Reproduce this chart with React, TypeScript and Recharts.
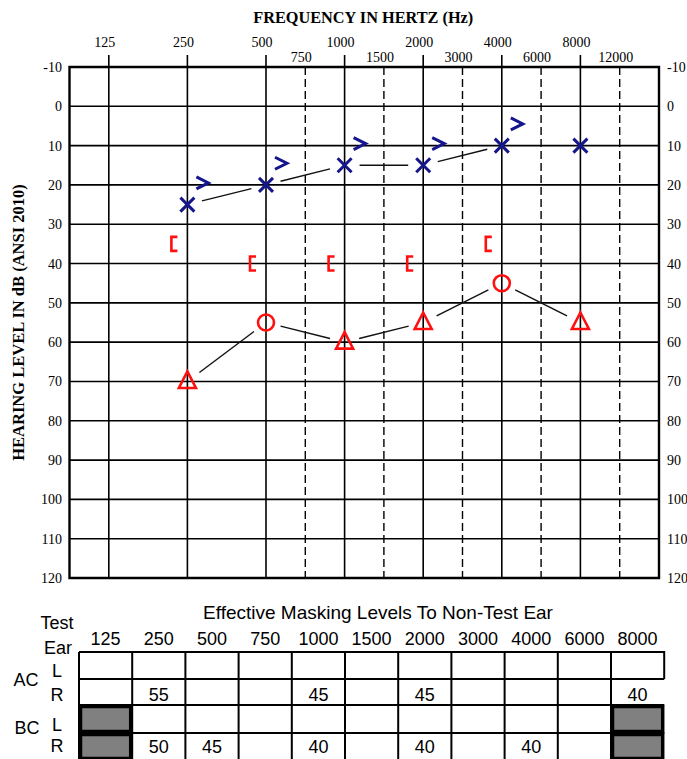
import React from 'react'
import {
  ComposedChart, Line, Scatter, XAxis, YAxis, CartesianGrid,
  ReferenceLine, ReferenceArea,
} from 'recharts'

// audiogram axes: octaves are evenly spaced, inter-octave lines sit half way
const FREQS = [125, 250, 500, 750, 1000, 1500, 2000, 3000, 4000, 6000, 8000, 12000]
const FREQ_POS = [0, 1, 2, 2.5, 3, 3.5, 4, 4.5, 5, 5.5, 6, 6.5]
const OCTAVE_FREQS = [125, 250, 500, 1000, 2000, 4000, 8000]
const MID_FREQS = [750, 1500, 3000, 6000, 12000]
const X_DOMAIN: [number, number] = [-0.5, 7]
const DB_TICKS = [-10, 0, 10, 20, 30, 40, 50, 60, 70, 80, 90, 100, 110, 120]

// left ear, air conduction (X); the 8000 point is not joined
const LEFT_AC_FREQ = [250, 500, 1000, 2000, 4000, 8000]
const LEFT_AC_DB = [25, 20, 15, 15, 10, 10]
const LEFT_AC_JOINED = [true, true, true, true, true, false]

// left ear, bone conduction unmasked (>)
const LEFT_BC_FREQ = [250, 500, 1000, 2000, 4000]
const LEFT_BC_DB = [20, 15, 10, 10, 5]

// right ear, air conduction: circle unmasked, triangle masked
const RIGHT_AC_FREQ = [250, 500, 1000, 2000, 4000, 8000]
const RIGHT_AC_DB = [70, 55, 60, 55, 45, 55]
const RIGHT_AC_MASKED = [true, false, true, true, false, true]

// right ear, bone conduction masked ([)
const RIGHT_BC_FREQ = [250, 500, 1000, 2000, 4000]
const RIGHT_BC_DB = [35, 40, 40, 40, 35]

// effective masking table
const MASK_FREQS = ['125', '250', '500', '750', '1000', '1500', '2000', '3000', '4000', '6000', '8000']
const MASK_AC_L = ['', '', '', '', '', '', '', '', '', '', '']
const MASK_AC_R = ['', '55', '', '', '45', '', '45', '', '', '', '40']
const MASK_BC_L = ['', '', '', '', '', '', '', '', '', '', '']
const MASK_BC_R = ['', '50', '45', '', '40', '', '40', '', '40', '', '']
const MASK_BC_GREY = [0, 10]

const NAVY = '#16168c'
const RED = '#ff1010'
const SERIF = '"Liberation Serif", "Times New Roman", serif'
const SANS = '"Liberation Sans", Arial, Helvetica, sans-serif'

const posOf = (f: number) => FREQ_POS[FREQS.indexOf(f)]
const freqOf = (p: number) => FREQS[FREQ_POS.indexOf(p)]

const leftAc = LEFT_AC_FREQ.map((f, i) => ({ x: posOf(f), v: LEFT_AC_DB[i] }))
const leftAcLine = leftAc.filter((_, i) => LEFT_AC_JOINED[i])
const leftBc = LEFT_BC_FREQ.map((f, i) => ({ x: posOf(f), v: LEFT_BC_DB[i] }))
const rightAc = RIGHT_AC_FREQ.map((f, i) => ({ x: posOf(f), v: RIGHT_AC_DB[i], masked: RIGHT_AC_MASKED[i] }))
const rightBc = RIGHT_BC_FREQ.map((f, i) => ({ x: posOf(f), v: RIGHT_BC_DB[i] }))

// connecting segment to the next point, stopping short of both symbols
function gapSegment(p: any) {
  const { cx, cy, index, points } = p
  const next = points && points[index + 1]
  if (!next || cx == null) return <g key={`s${index}`} />
  const dx = next.x - cx
  const dy = next.y - cy
  const len = Math.hypot(dx, dy)
  const gap = 15
  if (len <= gap * 2) return <g key={`s${index}`} />
  const ux = dx / len
  const uy = dy / len
  return (
    <line key={`s${index}`}
      x1={cx + ux * gap} y1={cy + uy * gap}
      x2={next.x - ux * gap} y2={next.y - uy * gap}
      stroke="#111" strokeWidth={1.4}
    />
  )
}

const XMark = (p: any) => {
  const { cx, cy } = p
  const s = 7
  return (
    <path d={`M${cx - s},${cy - s}L${cx + s},${cy + s}M${cx + s},${cy - s}L${cx - s},${cy + s}`}
      stroke={NAVY} strokeWidth={3} fill="none" />
  )
}

const BcLeftMark = (p: any) => {
  const x = p.cx + 15
  const y = p.cy - 2
  return (
    <path d={`M${x - 6},${y - 6}L${x + 6},${y}L${x - 6},${y + 6}`}
      stroke={NAVY} strokeWidth={3} fill="none" />
  )
}

const BcRightMark = (p: any) => {
  const x = p.cx - 13
  const y = p.cy
  return (
    <path d={`M${x + 3},${y - 7}H${x - 3}V${y + 7}H${x + 3}`}
      stroke={RED} strokeWidth={2.6} fill="none" />
  )
}

const AcRightMark = (p: any) => {
  const { cx, cy, payload } = p
  if (payload && payload.masked) {
    return (
      <path d={`M${cx},${cy - 10}L${cx + 8.5},${cy + 6.5}L${cx - 8.5},${cy + 6.5}Z`}
        stroke={RED} strokeWidth={2.6} fill="none" strokeLinejoin="miter" />
    )
  }
  return <circle cx={cx} cy={cy} r={8} stroke={RED} strokeWidth={2.6} fill="none" />
}

const FreqTick = (p: any) => {
  const f = freqOf(p.payload.value)
  const octave = OCTAVE_FREQS.includes(f)
  return (
    <g>
      {octave && <line x1={p.x} x2={p.x} y1={55} y2={67} stroke="#000" strokeWidth={1.6} />}
      <text x={p.x - 4} y={octave ? 47 : 62} textAnchor="middle"
        fontFamily={SERIF} fontSize={14} fill="#000">{f}</text>
    </g>
  )
}

const DbTickLeft = (p: any) => (
  <text x={62} y={p.y} dy={5} textAnchor="end" fontFamily={SERIF} fontSize={14} fill="#000">
    {p.payload.value}
  </text>
)

const DbTickRight = (p: any) => (
  <text x={667} y={p.y} dy={5} textAnchor="start" fontFamily={SERIF} fontSize={14} fill="#000">
    {p.payload.value}
  </text>
)

const FreqTitle = (p: any) => {
  const vb = p.viewBox || { x: 69.5, width: 590 }
  return (
    <text x={vb.x + vb.width / 2 - 1} y={23} textAnchor="middle"
      fontFamily={SERIF} fontWeight="bold" fontSize={16.3} fill="#000">
      FREQUENCY IN HERTZ (Hz)
    </text>
  )
}

const DbTitle = (p: any) => {
  const vb = p.viewBox || { y: 67, height: 511 }
  const cy = vb.y + vb.height / 2
  return (
    <text x={24} y={cy} transform={`rotate(-90 24 ${cy})`} textAnchor="middle"
      fontFamily={SERIF} fontWeight="bold" fontSize={16.5} fill="#000">
      HEARING LEVEL IN dB (ANSI 2010)
    </text>
  )
}

function MaskingTable() {
  const x0 = 79
  const w = 53.2
  const cols = MASK_FREQS.length
  const x1 = x0 + w * cols
  const rows = [652, 679, 705, 733, 760]
  const edges = Array.from({ length: cols + 1 }, (_, i) => x0 + w * i)
  const center = (i: number) => x0 + w * i + w / 2
  const valueRows = [
    { vals: MASK_AC_L, base: 676 },
    { vals: MASK_AC_R, base: 701 },
    { vals: MASK_BC_L, base: 728 },
    { vals: MASK_BC_R, base: 753 },
  ]
  const txt = { fontFamily: SANS, fontSize: 18, fill: '#000' }
  return (
    <svg width={687} height={169} style={{ position: 'absolute', left: 0, top: 590 }}>
      <g transform="translate(0,-590)">
        <text x={378} y={619} textAnchor="middle" {...txt} fontSize={19}>
          Effective Masking Levels To Non-Test Ear
        </text>
        <text x={57} y={629} textAnchor="middle" {...txt}>Test</text>
        <text x={72} y={654} textAnchor="end" {...txt}>Ear</text>
        {MASK_FREQS.map((f, i) => (
          <text key={f} x={center(i)} y={645} textAnchor="middle" {...txt}>{f}</text>
        ))}
        <text x={26} y={686} textAnchor="middle" {...txt}>AC</text>
        <text x={57} y={677} textAnchor="middle" {...txt}>L</text>
        <text x={57} y={701} textAnchor="middle" {...txt}>R</text>
        <text x={27} y={734} textAnchor="middle" {...txt}>BC</text>
        <text x={57} y={731} textAnchor="middle" {...txt}>L</text>
        <text x={57} y={752} textAnchor="middle" {...txt}>R</text>

        {rows.slice(0, 4).map(y => (
          <line key={y} x1={x0} x2={x1} y1={y} y2={y} stroke="#000" strokeWidth={2} />
        ))}
        {edges.slice(0, cols).map(x => (
          <line key={x} x1={x} x2={x} y1={652} y2={760} stroke="#000" strokeWidth={2} />
        ))}
        <line x1={x1} x2={x1} y1={651} y2={679} stroke="#000" strokeWidth={2} />

        {MASK_BC_GREY.map(ci => [2, 3].map(ri => (
          <rect key={`${ci}-${ri}`}
            x={x0 + w * ci + 1.5} y={rows[ri] + 1.5}
            width={w - 3} height={rows[ri + 1] - rows[ri] - 3}
            fill="#808080" stroke="#000" strokeWidth={3.5} />
        )))}

        {valueRows.map((r, ri) => r.vals.map((v, i) => v ? (
          <text key={`${ri}-${i}`} x={center(i)} y={r.base} textAnchor="middle" {...txt}>{v}</text>
        ) : null))}
      </g>
    </svg>
  )
}

export default function App() {
  return (
    <div style={{ position: 'absolute', left: 0, top: 0, width: 687, height: 759, background: '#fff', overflow: 'hidden' }}>
      <ComposedChart width={687} height={590} margin={{ top: 0, right: 0, bottom: 12, left: 19.5 }}>
        <CartesianGrid vertical={false} stroke="#000" strokeWidth={1.6} />
        <XAxis
          dataKey="x"
          type="number"
          domain={X_DOMAIN}
          allowDataOverflow
          orientation="top"
          height={67}
          ticks={FREQ_POS}
          interval={0}
          tick={(p: any) => <FreqTick {...p} />}
          tickLine={false}
          axisLine={false}
          label={(p: any) => <FreqTitle {...p} />}
        />
        <YAxis
          type="number"
          domain={[-10, 120]}
          allowDataOverflow
          reversed
          ticks={DB_TICKS}
          interval={0}
          width={50}
          axisLine={false}
          tickLine={false}
          tick={(p: any) => <DbTickLeft {...p} />}
          label={(p: any) => <DbTitle {...p} />}
        />
        <YAxis
          yAxisId="r"
          orientation="right"
          type="number"
          domain={[-10, 120]}
          allowDataOverflow
          reversed
          ticks={DB_TICKS}
          interval={0}
          width={28}
          axisLine={false}
          tickLine={false}
          tick={(p: any) => <DbTickRight {...p} />}
        />

        {OCTAVE_FREQS.map(f => (
          <ReferenceLine key={`o${f}`} x={posOf(f)} stroke="#000" strokeWidth={1.6} />
        ))}
        {MID_FREQS.map(f => (
          <ReferenceLine key={`m${f}`} x={posOf(f)} stroke="#000" strokeWidth={1.4} strokeDasharray="8 4" />
        ))}
        <ReferenceArea x1={X_DOMAIN[0]} x2={X_DOMAIN[1]} y1={-10} y2={120} fill="none" fillOpacity={0}
          stroke="#000" strokeWidth={2.4} ifOverflow="visible" />

        <Line data={leftAcLine} dataKey="v" stroke="none" dot={gapSegment} activeDot={false}
          isAnimationActive={false} legendType="none" />
        <Line data={rightAc} dataKey="v" stroke="none" dot={gapSegment} activeDot={false}
          isAnimationActive={false} legendType="none" />

        <Scatter data={leftAc} dataKey="v" shape={(p: any) => <XMark {...p} />} isAnimationActive={false} />
        <Scatter data={leftBc} dataKey="v" shape={(p: any) => <BcLeftMark {...p} />} isAnimationActive={false} />
        <Scatter data={rightAc} dataKey="v" shape={(p: any) => <AcRightMark {...p} />} isAnimationActive={false} />
        <Scatter data={rightBc} dataKey="v" shape={(p: any) => <BcRightMark {...p} />} isAnimationActive={false} />
      </ComposedChart>
      <MaskingTable />
    </div>
  )
}
